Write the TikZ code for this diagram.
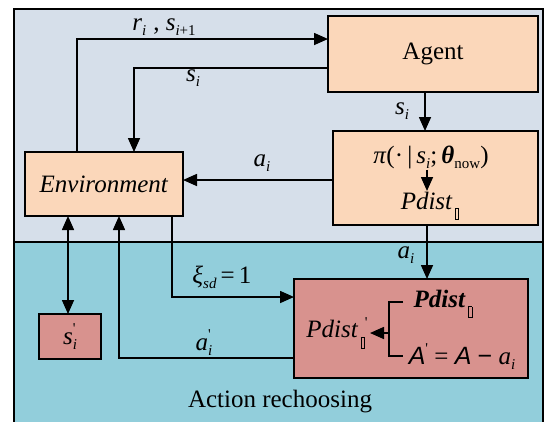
\documentclass[tikz,border=0pt]{standalone}
\usepackage{fontspec}
\setmainfont{Liberation Serif}[Ligatures=TeX]
\newfontfamily\serifam{Liberation Serif}
\newfontfamily\sansfam{Liberation Sans}
\usetikzlibrary{arrows.meta}

\definecolor{topbg}{HTML}{D6DFEA}
\definecolor{lowbg}{HTML}{92CEDB}
\definecolor{peachc}{HTML}{FBD7BA}
\definecolor{rosec}{HTML}{D8928E}

% small lowered / raised indices in the text font
\newcommand\lo[1]{\raisebox{-0.45ex}{\fontsize{15}{15}\selectfont #1}}
\newcommand\hi[1]{\raisebox{0.95ex}{\fontsize{15}{15}\selectfont #1}}
\newcommand\both[2]{\rlap{\hi{#1}}\lo{#2}}
% the empty glyph box used as an index
\newcommand\gbox{\,\raisebox{-0.7ex}{\setlength{\fboxsep}{0pt}\setlength{\fboxrule}{0.8pt}\fbox{\rule{0pt}{10pt}\rule{2.5pt}{0pt}}}}

\begin{document}
\begin{tikzpicture}[x=1pt,y=-1pt,
  every node/.style={inner sep=0pt,outer sep=0pt},
  font=\serifam\fontsize{25}{29}\selectfont,
  link/.style={line width=1.6pt},
  tip/.style={-{Triangle[length=14pt,width=12pt]}},
  twotip/.style={{Triangle[length=14pt,width=12pt]}-{Triangle[length=14pt,width=12pt]}},
  peachbox/.style={draw,line width=1.8pt,fill=peachc},
  rosebox/.style={draw,line width=1.8pt,fill=rosec}]

\useasboundingbox (0,0) rectangle (546,421);

% two regions
\draw[line width=1.6pt,fill=lowbg] (14,242) rectangle (543,440);
\draw[line width=1.6pt,fill=topbg] (14,9) rectangle (543,242);
\node (rechlabel) at (280,402) {Action rechoosing};

% blocks
\node[peachbox,minimum width=210pt,minimum height=76pt] (agent) at (433,54) {Agent};
\node[peachbox,minimum width=205pt,minimum height=94pt] (policy) at (435.5,178) {};
\node[peachbox,minimum width=158pt,minimum height=64pt] (env) at (104,184) {\textit{Environment}};
\node[rosebox,minimum width=62pt,minimum height=45pt] (sbox) at (70,336.5) {\textit{s}\both{'}{\textit{i}}};
\node[rosebox,minimum width=234pt,minimum height=99pt] (rech) at (411,328.5) {};

% policy block content
\node (pi) at (431,157) {\textit{π}(·\,|\,\textit{s}\lo{\textit{i}};\,\textbf{\textit{θ}}\lo{now})};
\node (pd) at (430,206) {\textit{Pdist}\lo{\gbox}};
\draw[link,tip] (427,170) coordinate (pa) -- (427,191) coordinate (pb);

% rechoosing block content
\node (pdb) at (443,304) {\textbf{\textit{Pdist}}\lo{\gbox}};
\node (aeq) at (462,357) {{\sansfam\itshape A}\hi{'} = {\sansfam\itshape A} {\sansfam −} \textit{a}\lo{\textit{i}}};
\node (pdn) at (337,333) {\textit{Pdist}\lo{\gbox}\hi{'}};
\coordinate (bt) at (403,302);
\coordinate (bb) at (403,356);
\coordinate (bm) at (389,333);
\draw[link] (bt) -| (bm) |- (bb);
\draw[link,tip] (bm) -- (370,333) coordinate (bend);

% connectors
\coordinate (c1) at (77,39);
\draw[link,tip] (env.north -| c1) |- (agent.west |- c1);
\node (lr) at (164,27) {\textit{r}\lo{\textit{i}}\;, \textit{s}\lo{\textit{i}+1}};

\coordinate (c2) at (134,68);
\draw[link,tip] (agent.west |- c2) -| (env.north -| c2);
\node (ls1) at (193,78) {\textit{s}\lo{\textit{i}}};

\coordinate (c3) at (425,0);
\draw[link,tip] (agent.south -| c3) -- (policy.north -| c3);
\node (ls2) at (402,111) {\textit{s}\lo{\textit{i}}};

\coordinate (c4) at (0,180);
\draw[link,tip] (policy.west |- c4) -- (env.east |- c4);
\node (la1) at (262,163) {\textit{a}\lo{\textit{i}}};

\coordinate (c5) at (427,0);
\draw[link,tip] (policy.south -| c5) -- (rech.north -| c5);
\node (la2) at (406,255) {\textit{a}\lo{\textit{i}}};

\coordinate (c6) at (68,0);
\draw[link,twotip] (env.south -| c6) -- (sbox.north -| c6);

\coordinate (c7) at (172,297);
\draw[link,tip] (env.south -| c7) |- (rech.west |- c7);
\node (lxi) at (222,277) {\textit{ξ}\lo{\textit{sd}}\,=\,1};

\coordinate (c8) at (119,358);
\draw[link,tip] (rech.west |- c8) -| (env.south -| c8);
\node (la3) at (204,343) {\textit{a}\both{'}{\textit{i}}};

\end{tikzpicture}
\end{document}
